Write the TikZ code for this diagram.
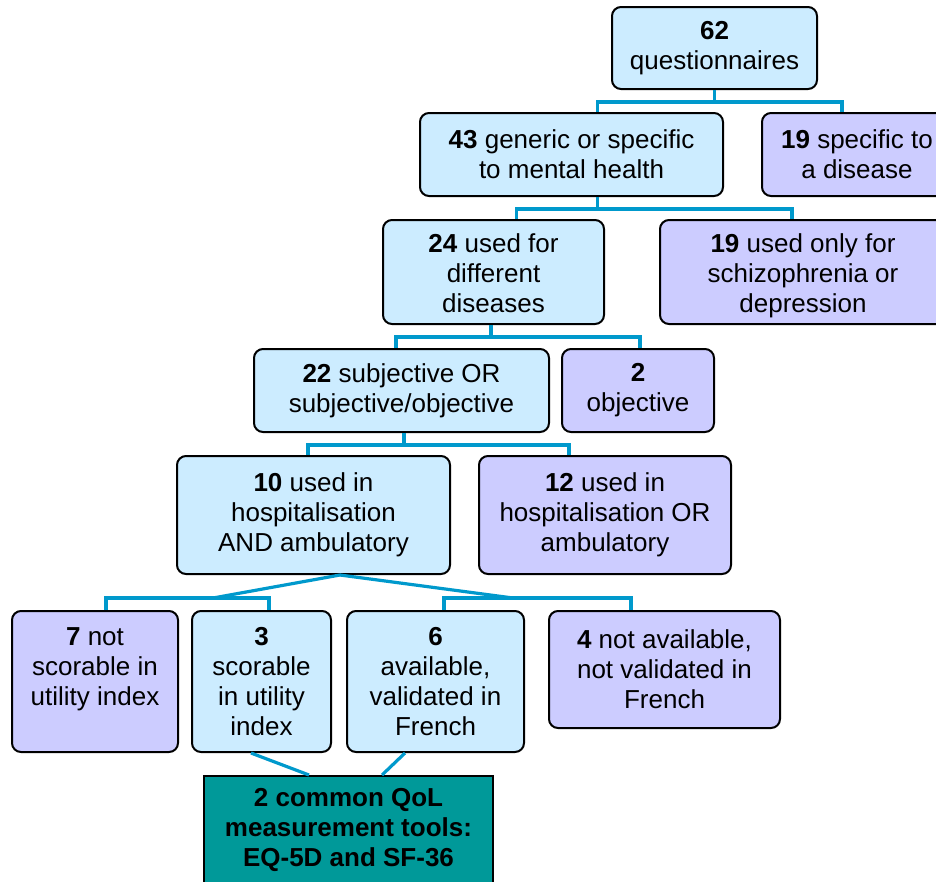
\documentclass[tikz,border=0pt]{standalone}
\usepackage{fontspec}
\setmainfont{Liberation Sans}
\definecolor{paleblue}{HTML}{CCECFF}
\definecolor{palepurple}{HTML}{CCCCFF}
\definecolor{linkblue}{HTML}{0099CC}
\definecolor{tealbox}{HTML}{009999}

\begin{document}
\begin{tikzpicture}[x=1pt,y=-1pt,
    box/.style={draw=black, line width=2pt, rounded corners=9pt, align=center,
        inner sep=0pt, font=\fontsize{26}{30}\selectfont},
    keep/.style={box, fill=paleblue},
    drop/.style={box, fill=palepurple},
    sunk/.style={text height=87pt, text depth=6pt},
    result/.style={box, rounded corners=0pt, fill=tealbox,
        font=\fontsize{26}{30}\selectfont\bfseries},
    link/.style={draw=linkblue, line width=3.2pt}]

\clip (0,0) rectangle (936,881);

% top levels
	\node[keep, minimum width=205, minimum height=82] (q62) at (714.5,48) {\textbf{62}\\questionnaires};
	\node[keep, minimum width=303, minimum height=83] (q43) at (571.5,154.5) {\textbf{43} generic or specific\\to mental health};
	\node[drop, minimum width=190, minimum height=83] (q19a) at (857,154.5) {\textbf{19} specific to\\a disease};
	\node[keep, sunk, minimum width=221, minimum height=104] (q24) at (493.5,272) {\textbf{24} used for\\different\\diseases};
	\node[drop, sunk, minimum width=286, minimum height=104] (q19b) at (803,272) {\textbf{19} used only for\\schizophrenia or\\depression};
	\node[keep, minimum width=295, minimum height=83] (q22) at (401.5,390.5) {\textbf{22} subjective OR\\subjective/objective};
	\node[drop, minimum width=152, minimum height=83] (q2) at (638,390.5) {\textbf{2}\\objective};
	\node[keep, minimum width=273, minimum height=118] (q10) at (313.5,515) {\textbf{10} used in\\hospitalisation\\AND ambulatory};
	\node[drop, minimum width=252, minimum height=118] (q12) at (605,515) {\textbf{12} used in\\hospitalisation OR\\ambulatory};

% bottom level
	\node[drop, minimum width=166, minimum height=141] (q7) at (95,681.5) {\textbf{7} not\\scorable in\\utility index\\\mbox{}};
	\node[keep, minimum width=139, minimum height=141] (q3) at (261.5,681.5) {\textbf{3}\\scorable\\in utility\\index};
	\node[keep, minimum width=177, minimum height=141] (q6) at (435.5,681.5) {\textbf{6}\\available,\\validated in\\French};
	\node[drop, minimum width=231, minimum height=117] (q4) at (664.5,669.5) {\textbf{4} not available,\\not validated in\\French};
	\node[result, minimum width=289, minimum height=108] (qol) at (348.5,830) {2 common QoL\\measurement tools:\\EQ-5D and SF-36};

	\coordinate (splitL) at (213,598);
	\coordinate (splitR) at (513,598);

% connectors
	\draw[link] (q62.south) -- ++(0,12) -| ([xshift=26]q43.north);
	\draw[link] (q62.south) -- ++(0,12) -| ([xshift=-15]q19a.north);
	\draw[link] ([xshift=26]q43.south) -- ++(0,12) -| ([xshift=23]q24.north);
	\draw[link] ([xshift=26]q43.south) -- ++(0,12) -| ([xshift=-11]q19b.north);
	\draw[link] ([xshift=-2.5]q24.south) -- ++(0,12) -| ([xshift=-5.5]q22.north);
	\draw[link] ([xshift=-2.5]q24.south) -- ++(0,12) -| ([xshift=2]q2.north);
	\draw[link] ([xshift=2.5]q22.south) -- ++(0,12) -| ([xshift=-5.5]q10.north);
	\draw[link] ([xshift=2.5]q22.south) -- ++(0,12) -| ([xshift=-36]q12.north);
	\draw[link] ([xshift=26.5]q10.south) -- (splitL);
	\draw[link] ([xshift=26.5]q10.south) -- (splitR);
	\draw[link] ([xshift=11]q7.north) |- (splitL) -| ([xshift=7.5]q3.north);
	\draw[link] ([xshift=8.5]q6.north) |- (splitR) -| ([xshift=-33.5]q4.north);
	\draw[link] ([xshift=-10.5]q3.south) -- ([xshift=-39.5]qol.north);
	\draw[link] ([xshift=-30.5]q6.south) -- ([xshift=33.5]qol.north);

\end{tikzpicture}
\end{document}
